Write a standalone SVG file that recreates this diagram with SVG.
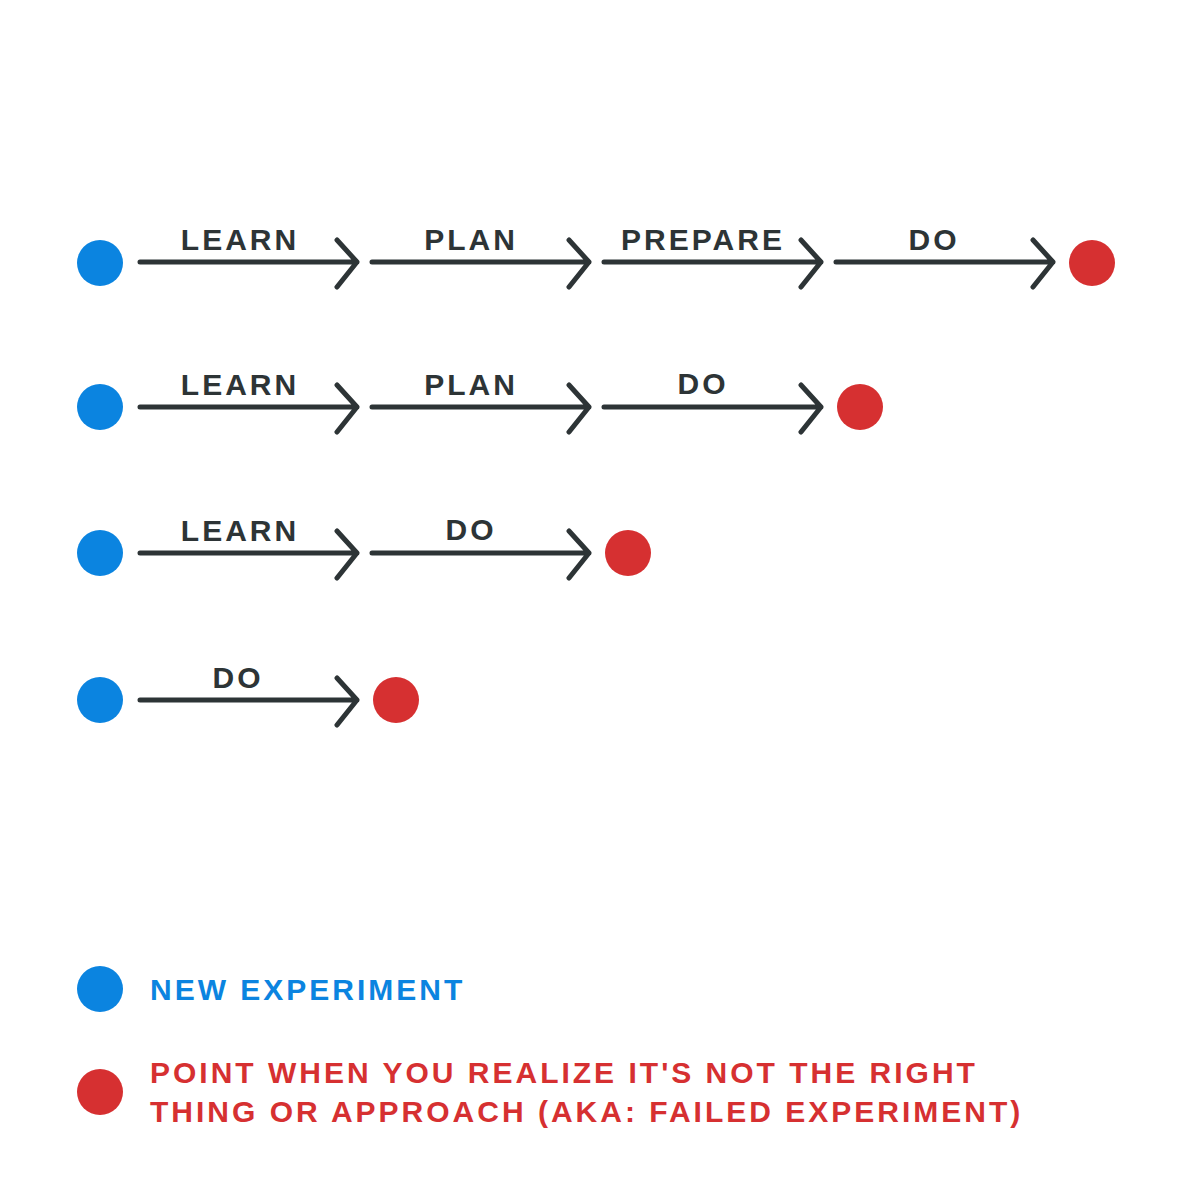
<svg xmlns="http://www.w3.org/2000/svg" width="1200" height="1200" viewBox="0 0 1200 1200">
<defs><style>
.b{fill:#0b84e0}.r{fill:#d63031}
.a{fill:none;stroke:#2d3436;stroke-width:5;stroke-linecap:round;stroke-linejoin:round}
.t{font-family:"Liberation Sans",Arial,sans-serif;font-weight:bold;font-size:30px;letter-spacing:3px;fill:#2d3436;text-anchor:middle}
.l{font-family:"Liberation Sans",Arial,sans-serif;font-weight:bold;font-size:30px;letter-spacing:3px}
</style>
<g id="arr"><path class="a" d="M0 0H217M197 -22L217 0L197 25"/></g>
</defs>
<rect width="1200" height="1200" fill="#fff"/>
<g id="connectors">
<use href="#arr" x="140" y="262"/><use href="#arr" x="372" y="262"/><use href="#arr" x="604" y="262"/><use href="#arr" x="836" y="262"/>
<use href="#arr" x="140" y="407"/><use href="#arr" x="372" y="407"/><use href="#arr" x="604" y="407"/>
<use href="#arr" x="140" y="553"/><use href="#arr" x="372" y="553"/>
<use href="#arr" x="140" y="700"/>
<text class="t" x="240" y="250">LEARN</text><text class="t" x="471" y="250">PLAN</text><text class="t" x="703" y="250">PREPARE</text><text class="t" x="934" y="250">DO</text>
<text class="t" x="240" y="395">LEARN</text><text class="t" x="471" y="395">PLAN</text><text class="t" x="703" y="394">DO</text>
<text class="t" x="240" y="541">LEARN</text><text class="t" x="471" y="540">DO</text>
<text class="t" x="238" y="688">DO</text>
</g>
<g id="row1"><circle class="b" cx="100" cy="263" r="23"/><circle class="r" cx="1092" cy="263" r="23"/></g>
<g id="row2"><circle class="b" cx="100" cy="407" r="23"/><circle class="r" cx="860" cy="407" r="23"/></g>
<g id="row3"><circle class="b" cx="100" cy="553" r="23"/><circle class="r" cx="628" cy="553" r="23"/></g>
<g id="row4"><circle class="b" cx="100" cy="700" r="23"/><circle class="r" cx="396" cy="700" r="23"/></g>
<g id="legend-blue"><circle class="b" cx="100" cy="989" r="23"/><text class="l" x="150" y="1000" fill="#0b84e0">NEW EXPERIMENT</text></g>
<g id="legend-red"><circle class="r" cx="100" cy="1092" r="23"/>
<text class="l" x="150" y="1083" fill="#d63031">POINT WHEN YOU REALIZE IT'S NOT THE RIGHT</text>
<text class="l" x="150" y="1122" fill="#d63031">THING OR APPROACH (AKA: FAILED EXPERIMENT)</text></g>
</svg>
